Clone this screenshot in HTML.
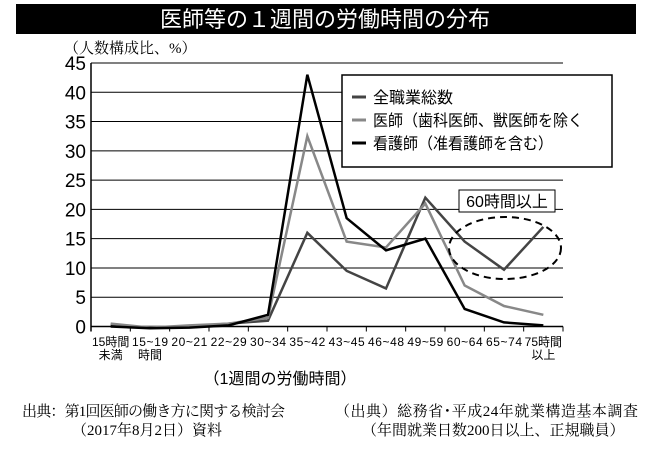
<!DOCTYPE html>
<html><head><meta charset="utf-8"><style>
body{margin:0;background:#fff;width:650px;height:445px;overflow:hidden;}
svg text{font-family:"Liberation Sans","Noto Sans CJK JP",sans-serif;}
.serif{font-family:"Liberation Serif","Noto Serif CJK SC",serif !important;}
</style></head><body>
<svg width="650" height="445">
<rect x="16" y="4" width="620" height="30" fill="#000"/>
<text x="325" y="27" fill="#fff" font-size="22" text-anchor="middle">医師等の１週間の労働時間の分布</text>
<text x="64" y="53" font-size="15" class="serif">（人数構成比、%）</text>
<g id="grid"></g>
<g id="xlab"></g>
<g id="lines"></g>
<rect x="342" y="75" width="270" height="92" fill="#fff" stroke="#000" stroke-width="1.5"/>
<line x1="352" y1="97" x2="366" y2="97" stroke="#444" stroke-width="3"/>
<text x="373" y="103" font-size="16">全職業総数</text>
<line x1="352" y1="120" x2="366" y2="120" stroke="#888" stroke-width="3"/>
<text x="373" y="126" font-size="16" textLength="210" lengthAdjust="spacingAndGlyphs">医師（歯科医師、獣医師を除く</text>
<line x1="352" y1="143" x2="366" y2="143" stroke="#000" stroke-width="3"/>
<text x="373" y="149" font-size="16" textLength="180" lengthAdjust="spacingAndGlyphs">看護師（准看護師を含む）</text>
<rect x="459" y="190" width="96" height="22" fill="#fff" stroke="#000"/>
<text x="507" y="207" font-size="16" text-anchor="middle">60時間以上</text>
<ellipse cx="505" cy="248" rx="56" ry="31" fill="none" stroke="#000" stroke-width="2" stroke-dasharray="7,5"/>
<text x="280" y="384" font-size="16" text-anchor="middle">（1週間の労働時間）</text>
<text x="22" y="416" font-size="15" class="serif" textLength="263">出典：第1回医師の働き方に関する検討会</text>
<text x="72" y="435" font-size="15" class="serif">（2017年8月2日）資料</text>
<text x="335" y="416" font-size="15" class="serif" textLength="303">（出典）総務省･平成24年就業構造基本調査</text>
<text x="362" y="435" font-size="15" class="serif">（年間就業日数200日以上、正規職員）</text>
</svg>
<script>
const categories=["15時間|未満","15~19|時間","20~21","22~29","30~34","35~42","43~45","46~48","49~59","60~64","65~74","75時間|以上"];
const yTicks=[0,5,10,15,20,25,30,35,40,45];
const allJobs=[0.3,-0.2,0,0.5,1,16,9.5,6.5,22,14.5,9.7,17];
const doctors=[0.5,-0.2,0.2,0.5,1.5,32.5,14.5,13.5,21,7,3.5,2];
const nurses=[0,-0.3,-0.2,0.2,2,43,18.5,13,15,3,0.7,0.2];
const NS="http://www.w3.org/2000/svg";
const x0=91,x1=563,yb=326.5,yt=63;
const bw=(x1-x0)/categories.length;
function X(i){return x0+bw*(i+0.5);}
function Y(v){return yb-(v/45)*(yb-yt);}
function mk(tag,at,parent){const e=document.createElementNS(NS,tag);for(const k in at)e.setAttribute(k,at[k]);parent.appendChild(e);return e;}
const g=document.getElementById('grid');
yTicks.forEach(t=>{
 const l=mk('line',{x1:x0,x2:x1,y1:Y(t),y2:Y(t),stroke:'#000','stroke-width':t===0?1.5:1},g);
 
 
 const tx=mk('text',{x:86,y:Y(t)+7,'font-size':19,'text-anchor':'end'},g);
 tx.textContent=t;
 
 
});
mk('line',{x1:x0,x2:x0,y1:yt,y2:yb+5,stroke:'#000','stroke-width':1.5},g);
const xl=document.getElementById('xlab');
for(let i=0;i<=categories.length;i++){mk('line',{x1:x0+bw*i,x2:x0+bw*i,y1:yb,y2:yb+5,stroke:'#000'},xl);}
categories.forEach((c,i)=>{
 c.split('|').forEach((p,j)=>{
  const t=mk('text',{x:X(i),y:346+j*13,'font-size':12,'text-anchor':'middle'},xl);
  if(p.length>4)t.setAttribute('textLength',36);
  t.textContent=p;
  
  
 });
});
const L=document.getElementById('lines');
[[allJobs,'#444','series-all-jobs'],[doctors,'#888','series-doctors'],[nurses,'#000','series-nurses']].forEach(([d,c,n])=>{
 const p=mk('polyline',{points:d.map((v,i)=>X(i)+','+Y(v)).join(' '),fill:'none',stroke:c,'stroke-width':2.5,'stroke-linejoin':'miter'},L);
 
 
});
</script>
</body></html>
